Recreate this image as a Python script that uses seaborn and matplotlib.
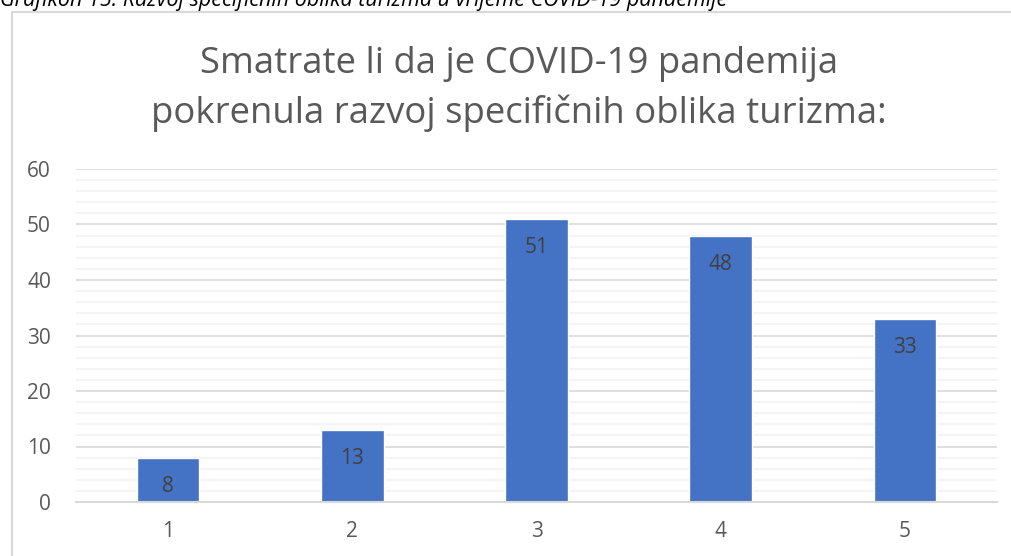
import matplotlib
matplotlib.use("Agg")
import matplotlib.pyplot as plt
import seaborn as sns
import pandas as pd
from matplotlib.patches import Rectangle

categories = ["1", "2", "3", "4", "5"]
values = [8, 13, 51, 48, 33]
yticks = [0, 10, 20, 30, 40, 50, 60]
title = "Smatrate li da je COVID-19 pandemija\npokrenula razvoj specifičnih oblika turizma:"
caption = "Grafikon 15: Razvoj specifičnih oblika turizma u vrijeme COVID-19 pandemije"

sns.set_style("white")
plt.rcParams['font.family'] = ['Open Sans', 'DejaVu Sans']

df = pd.DataFrame({"cat": categories, "val": values})

fig = plt.figure(figsize=(10.12, 5.56), dpi=100)
ax = fig.add_axes([76/1012, (556-502)/556, (997-76)/1012, (502-169)/556])

sns.barplot(data=df, x="cat", y="val", color="#4472C4", width=0.34,
            saturation=1, ax=ax, zorder=3)

ax.set_xlim(-0.5, 4.5)
ax.set_ylim(0, 60)
ax.set_yticks(yticks)
ax.set_yticks(range(0, 61, 2), minor=True)
ax.grid(axis="y", which="minor", color="#F2F2F2", lw=1.2, zorder=0)
ax.grid(axis="y", which="major", color="#D9D9D9", lw=1.2, zorder=1)
ax.set_axisbelow(True)
for s in ["top", "right", "left"]:
    ax.spines[s].set_visible(False)
ax.spines["bottom"].set_color("#D9D9D9")
ax.spines["bottom"].set_linewidth(1.5)
ax.spines["bottom"].set_zorder(4)
ax.tick_params(axis="both", which="both", length=0, labelsize=15, colors="#595959")
ax.tick_params(axis="x", pad=14)
ax.tick_params(axis="y", pad=18)
ax.set_xlabel("")
ax.set_ylabel("")

for i, v in enumerate(values):
    ax.annotate(str(v), xy=(i, v), xytext=(0, -20.5), textcoords="offset points",
                ha="center", va="center", fontsize=15, color="#404040", zorder=5)

fig.text(519/1012, 1 - 89/556, title, ha="center", va="center", fontsize=26.3,
         color="#595959", linespacing=1.42)

fig.text(0.0, 1 - 6/556, caption, ha="left", va="baseline", fontsize=15.5,
         style="italic", color="#000000")

fig.patches.append(Rectangle((12/1012, -0.1), 1.2, 1 - 12/556 + 0.1,
                             transform=fig.transFigure, fill=False,
                             edgecolor="#D9D9D9", lw=1.5, zorder=0))

fig.savefig("out.png", dpi=100)
